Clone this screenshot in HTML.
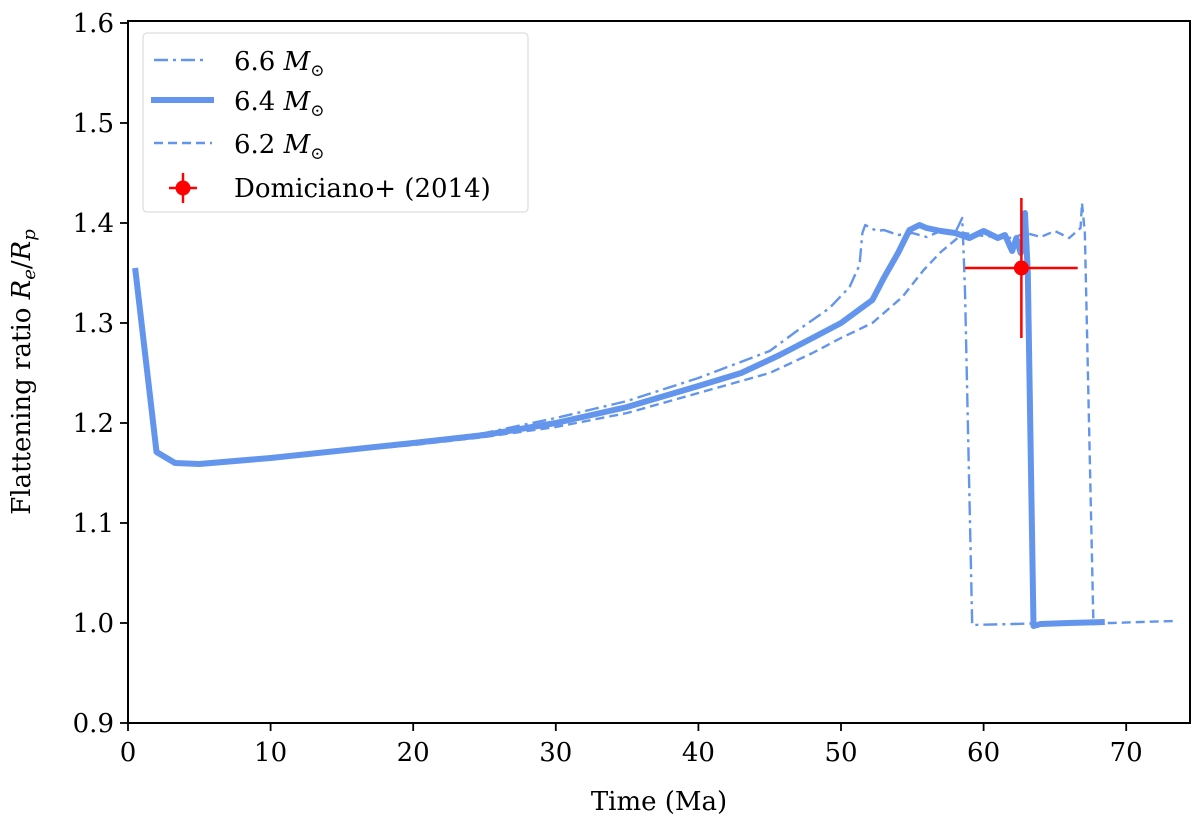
<!DOCTYPE html>
<html><head><meta charset="utf-8"><style>
body{margin:0;background:#fff}
svg text{font-family:"DejaVu Serif","Liberation Serif",serif}
</style></head><body>
<svg id="chart" width="1200" height="821" viewBox="0 0 1200 821"></svg>
<script>
const t66=[0.5,2,3.3,5,10,20,25,30,35,40,45,47,49.2,50.6,51.3,51.5,51.7,52.5,53,54,55,56,57,58,58.5,58.6,58.7,59.2,62,65,67,67.7,67.8];
const v66=[1.355,1.171,1.16,1.159,1.165,1.18,1.19,1.205,1.222,1.245,1.272,1.293,1.315,1.336,1.358,1.39,1.398,1.392,1.393,1.388,1.39,1.386,1.392,1.39,1.405,1.37,1.33,0.998,0.999,1.0,1.001,1.0,0.998];
const t64=[0.5,2,3.3,5,10,20,25,30,35,40,43,45.7,48,50,52.2,53,54,54.8,55.5,56,57,58,59,60,61,61.5,62,62.3,62.6,62.8,62.9,63.1,63.5,64,66,68.5];
const v64=[1.355,1.171,1.16,1.159,1.165,1.18,1.188,1.2,1.216,1.237,1.25,1.268,1.285,1.3,1.323,1.345,1.37,1.393,1.398,1.395,1.392,1.39,1.385,1.392,1.385,1.388,1.372,1.385,1.37,1.38,1.41,1.35,0.997,0.999,1.0,1.001];
const t62=[0.5,2,3.3,5,10,20,25,30,35,40,45,48,50,52.2,54.3,55.8,57,58.6,60,62,63,64,65,66,66.8,66.9,67.1,67.7,69,71,73.3];
const v62=[1.355,1.171,1.16,1.159,1.165,1.178,1.186,1.196,1.21,1.23,1.25,1.27,1.285,1.3,1.326,1.353,1.371,1.39,1.387,1.385,1.39,1.386,1.392,1.385,1.395,1.42,1.39,1.0,1.0,1.001,1.002];
const obsT=[62.65], obsV=[1.355], obsXErr=[3.95], obsYErr=[0.07];
const xTicks=[0,10,20,30,40,50,60,70];
const yTicks=[0.9,1.0,1.1,1.2,1.3,1.4,1.5,1.6];
const L=128,R=1190,T=21,B=723;
const x=t=>L+t*14.26;
const y=v=>623-(v-1)*1000;
const svg=document.getElementById('chart');
const NS='http://www.w3.org/2000/svg';
function mk(tag,attrs,parent){const e=document.createElementNS(NS,tag);for(const k in attrs)e.setAttribute(k,attrs[k]);(parent||svg).appendChild(e);return e;}
const col='#6495ED';
function line(ts,vs,w,dash,name){
  const p=mk('polyline',{points:ts.map((t,i)=>x(t)+','+y(vs[i])).join(' '),fill:'none',stroke:col,'stroke-width':w,'stroke-dasharray':dash,'stroke-linejoin':'round'});
  
  
}
line(t66,v66,2.4,'14,5,3,5','line-6-6-msun');
line(t62,v62,2.4,'9,5','line-6-2-msun');
line(t64,v64,6,'none','line-6-4-msun');
obsT.forEach((t,i)=>{
  const g=mk('g',{});
  
  
  mk('line',{x1:x(t-obsXErr[i]),x2:x(t+obsXErr[i]),y1:y(obsV[i]),y2:y(obsV[i]),stroke:'red','stroke-width':2.5},g);
  mk('line',{x1:x(t),x2:x(t),y1:y(obsV[i]-obsYErr[i]),y2:y(obsV[i]+obsYErr[i]),stroke:'red','stroke-width':2.5},g);
  mk('circle',{cx:x(t),cy:y(obsV[i]),r:7.5,fill:'red'},g);
});
const frame=mk('rect',{x:L,y:T,width:R-L,height:B-T,fill:'none',stroke:'#000','stroke-width':2});


xTicks.forEach(t=>{
  mk('line',{x1:x(t),x2:x(t),y1:B,y2:B+8,stroke:'#000','stroke-width':1.8});
  const tx=mk('text',{x:x(t),y:B+38,'text-anchor':'middle','font-size':26});
  tx.textContent=t;
  
  
});
yTicks.forEach(v=>{
  mk('line',{x1:L-8,x2:L,y1:y(v),y2:y(v),stroke:'#000','stroke-width':1.8});
  const tx=mk('text',{x:L-14,y:y(v)+9,'text-anchor':'end','font-size':26});
  tx.textContent=v.toFixed(1);
  
  
});
</script>
<svg width="1200" height="821" style="position:absolute;left:0;top:0">
<text x="659" y="810" text-anchor="middle" font-size="26" font-family="DejaVu Serif, serif">Time (Ma)</text>
<text transform="translate(30,372) rotate(-90)" text-anchor="middle" font-size="26" font-family="DejaVu Serif, serif">Flattening ratio <tspan font-style="italic">R</tspan><tspan font-style="italic" font-size="18" dy="5">e</tspan><tspan dy="-5">/</tspan><tspan font-style="italic">R</tspan><tspan font-style="italic" font-size="18" dy="5">p</tspan></text>
<g>
<rect x="143" y="33" width="385" height="179" rx="4" fill="#fff" stroke="#ddd" stroke-width="1.2"/>
<line x1="154" x2="208" y1="60" y2="60" stroke="#6495ED" stroke-width="2.4" stroke-dasharray="14,5,3,5"/>
<text x="234" y="70" font-size="26" font-family="DejaVu Sans, sans-serif">6.6 <tspan font-style="italic">M</tspan><tspan font-size="17" dy="6">⊙</tspan></text>
<line x1="151" x2="214" y1="100" y2="100" stroke="#6495ED" stroke-width="6"/>
<text x="234" y="110" font-size="26" font-family="DejaVu Sans, sans-serif">6.4 <tspan font-style="italic">M</tspan><tspan font-size="17" dy="6">⊙</tspan></text>
<line x1="154" x2="212" y1="143" y2="143" stroke="#6495ED" stroke-width="2.4" stroke-dasharray="9,5"/>
<text x="234" y="153" font-size="26" font-family="DejaVu Sans, sans-serif">6.2 <tspan font-style="italic">M</tspan><tspan font-size="17" dy="6">⊙</tspan></text>
<line x1="169" x2="197" y1="188" y2="188" stroke="red" stroke-width="2.5"/>
<line x1="183" x2="183" y1="173" y2="203" stroke="red" stroke-width="2.5"/>
<circle cx="183" cy="188" r="7.5" fill="red"/>
<text x="234" y="197" font-size="26" font-family="DejaVu Serif, serif">Domiciano+ (2014)</text>
</g>
</svg>
</body></html>
